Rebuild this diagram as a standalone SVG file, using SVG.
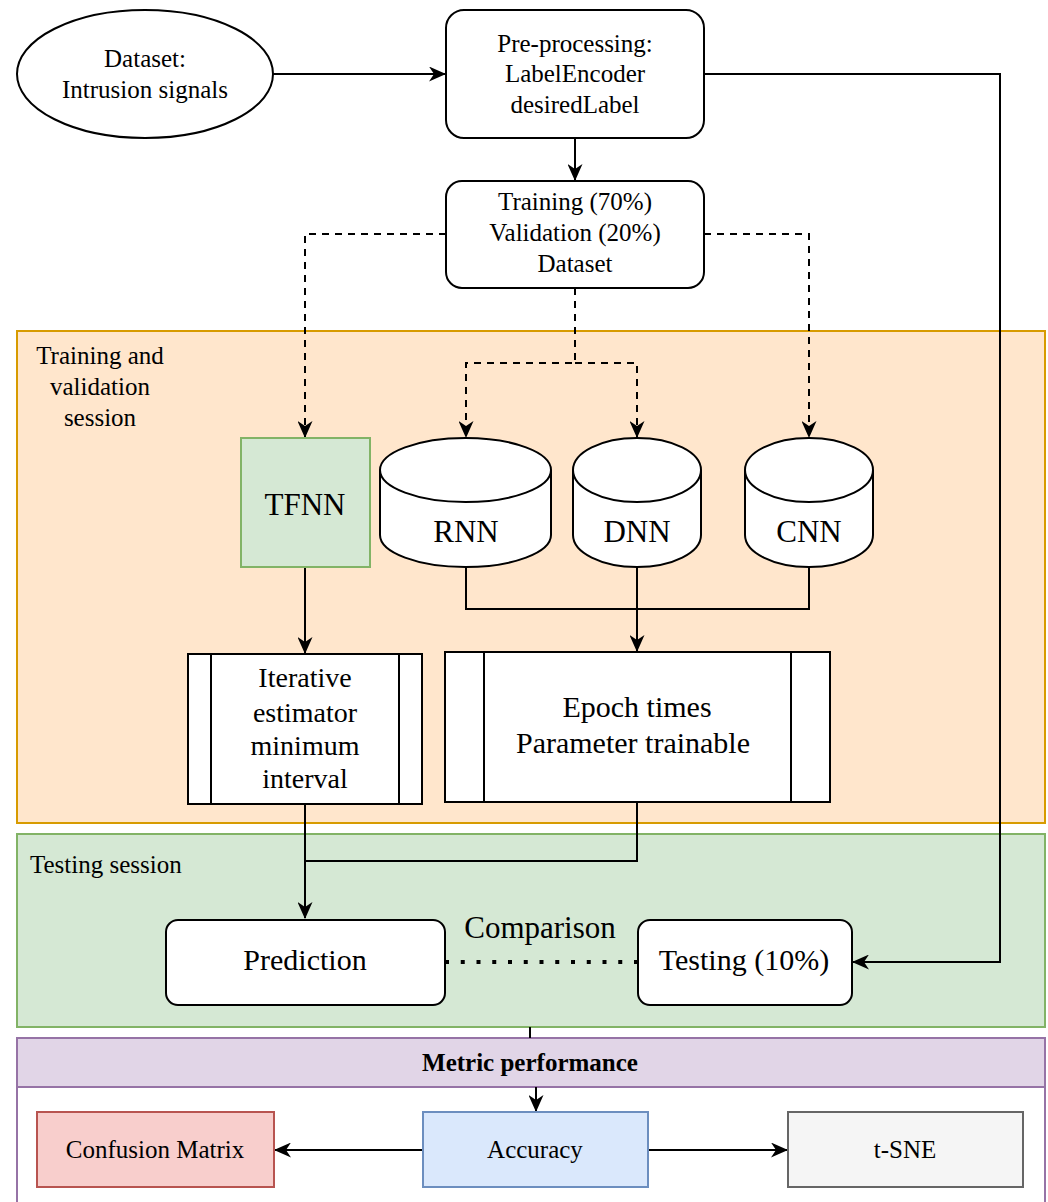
<svg xmlns="http://www.w3.org/2000/svg" width="1048" height="1202" viewBox="0 0 1048 1202">
<defs>
<style>
text{font-family:"Liberation Serif","Times New Roman",serif;fill:#000;}
.t25{font-size:25px;}
.t28{font-size:28px;}
.t30{font-size:30px;}
.t31{font-size:31px;}
.c{text-anchor:middle;}
.box{fill:#fff;stroke:#000;stroke-width:2;}
.ln{fill:none;stroke:#000;stroke-width:2;}
.dash{fill:none;stroke:#000;stroke-width:2;stroke-dasharray:7 6;}
.dot{fill:none;stroke:#000;stroke-width:4;stroke-dasharray:4 11.75;}
</style>
<marker id="arr" viewBox="0 0 17 15" refX="16" refY="7.5" markerWidth="17" markerHeight="15" markerUnits="userSpaceOnUse" orient="auto">
<path d="M0,0 L17,7.5 L0,15 L5,7.5 Z" fill="#000"/>
</marker>
</defs>
<rect width="1048" height="1202" fill="#fff"/>

<g id="container-training">
<rect x="17" y="331" width="1028" height="492" fill="#ffe6cc" stroke="#d79b00" stroke-width="2"/>
<text class="t25 c" x="100" y="364">Training and</text>
<text class="t25 c" x="100" y="395">validation</text>
<text class="t25 c" x="100" y="426">session</text>
</g>
<g id="container-testing">
<rect x="17" y="834" width="1028" height="193" fill="#d5e8d4" stroke="#82b366" stroke-width="2"/>
<text class="t25" x="30" y="873">Testing session</text>
</g>
<g id="container-metric">
<rect x="17" y="1038" width="1028" height="200" fill="#fff" stroke="#9673a6" stroke-width="2"/>
<rect x="17" y="1038" width="1028" height="49" fill="#e1d5e7" stroke="#9673a6" stroke-width="2"/>
<text class="t25 c" x="530" y="1071" font-weight="bold">Metric performance</text>
</g>

<g id="connectors">
<path class="ln" d="M273,74 L445,74" marker-end="url(#arr)"/>
<path class="ln" d="M575,138 L575,180" marker-end="url(#arr)"/>
<path class="ln" d="M704,74 L1000,74 L1000,962 L853,962" marker-end="url(#arr)"/>
<path class="dash" d="M446,234 L305,234 L305,437" marker-end="url(#arr)"/>
<path class="dash" d="M704,234 L809,234 L809,437" marker-end="url(#arr)"/>
<path class="dash" d="M575,288 L575,363 L466,363 L466,437" marker-end="url(#arr)"/>
<path class="dash" d="M575,363 L637,363 L637,437" marker-end="url(#arr)"/>
<path class="ln" d="M305,567 L305,653" marker-end="url(#arr)"/>
<path class="ln" d="M466,567 L466,609 L809,609 L809,567"/>
<path class="ln" d="M637,567 L637,651" marker-end="url(#arr)"/>
<path class="ln" d="M305,804 L305,918" marker-end="url(#arr)"/>
<path class="ln" d="M637,802 L637,861 L305,861"/>
<path class="dot" d="M445,962 L638,962"/>
<path class="ln" d="M530,1027 L530,1038"/>
<path class="ln" d="M536,1087 L536,1111" marker-end="url(#arr)"/>
<path class="ln" d="M423,1150 L275,1150" marker-end="url(#arr)"/>
<path class="ln" d="M648,1150 L787,1150" marker-end="url(#arr)"/>
</g>

<g id="dataset">
<ellipse class="box" cx="145" cy="74" rx="128" ry="64"/>
<text class="t25 c" x="145" y="67">Dataset:</text>
<text class="t25 c" x="145" y="98">Intrusion signals</text>
</g>
<g id="preprocessing">
<rect class="box" x="446" y="10" width="258" height="128" rx="18"/>
<text class="t25 c" x="575" y="52">Pre-processing:</text>
<text class="t25 c" x="575" y="82">LabelEncoder</text>
<text class="t25 c" x="575" y="113">desiredLabel</text>
</g>
<g id="training">
<rect class="box" x="446" y="181" width="258" height="107" rx="16"/>
<text class="t25 c" x="575" y="210">Training (70%)</text>
<text class="t25 c" x="575" y="241">Validation (20%)</text>
<text class="t25 c" x="575" y="272">Dataset</text>
</g>
<g id="tfnn">
<rect x="241" y="438" width="129" height="129" fill="#d5e8d4" stroke="#82b366" stroke-width="2"/>
<text class="t31 c" x="305" y="515">TFNN</text>
</g>
<g id="rnn">
<path class="box" d="M380,470 A85.5,32 0 0 1 551,470 L551,535 A85.5,32 0 0 1 380,535 Z"/>
<path class="ln" d="M380,470 A85.5,32 0 0 0 551,470"/>
<text class="t31 c" x="466" y="542">RNN</text>
</g>
<g id="dnn">
<path class="box" d="M573,470 A64,32 0 0 1 701,470 L701,535 A64,32 0 0 1 573,535 Z"/>
<path class="ln" d="M573,470 A64,32 0 0 0 701,470"/>
<text class="t31 c" x="637" y="542">DNN</text>
</g>
<g id="cnn">
<path class="box" d="M745,470 A64,32 0 0 1 873,470 L873,535 A64,32 0 0 1 745,535 Z"/>
<path class="ln" d="M745,470 A64,32 0 0 0 873,470"/>
<text class="t31 c" x="809" y="542">CNN</text>
</g>
<g id="iterative">
<rect class="box" x="188" y="654" width="234" height="150"/>
<path class="ln" d="M211,654 L211,804 M399,654 L399,804"/>
<text class="t28 c" x="305" y="687">Iterative</text>
<text class="t28 c" x="305" y="722">estimator</text>
<text class="t28 c" x="305" y="755">minimum</text>
<text class="t28 c" x="305" y="788">interval</text>
</g>
<g id="epoch">
<rect class="box" x="445" y="652" width="385" height="150"/>
<path class="ln" d="M484,652 L484,802 M791,652 L791,802"/>
<text class="t30 c" x="637" y="717">Epoch times</text>
<text class="t30 c" x="633" y="753">Parameter trainable</text>
</g>
<g id="prediction">
<rect class="box" x="166" y="920" width="279" height="85" rx="12"/>
<text class="t30 c" x="305" y="970">Prediction</text>
</g>
<g id="comparison-label">
<text class="t31 c" x="540" y="938">Comparison</text>
</g>
<g id="testing">
<rect class="box" x="638" y="920" width="214" height="85" rx="12"/>
<text class="t30 c" x="744" y="970">Testing (10%)</text>
</g>
<g id="confusion">
<rect x="37" y="1112" width="237" height="75" fill="#f8cecc" stroke="#b85450" stroke-width="2"/>
<text class="t25 c" x="155" y="1158">Confusion Matrix</text>
</g>
<g id="accuracy">
<rect x="423" y="1112" width="225" height="75" fill="#dae8fc" stroke="#6c8ebf" stroke-width="2"/>
<text class="t25 c" x="535" y="1158">Accuracy</text>
</g>
<g id="tsne">
<rect x="788" y="1112" width="235" height="75" fill="#f5f5f5" stroke="#666666" stroke-width="2"/>
<text class="t25 c" x="905" y="1158">t-SNE</text>
</g>
</svg>
